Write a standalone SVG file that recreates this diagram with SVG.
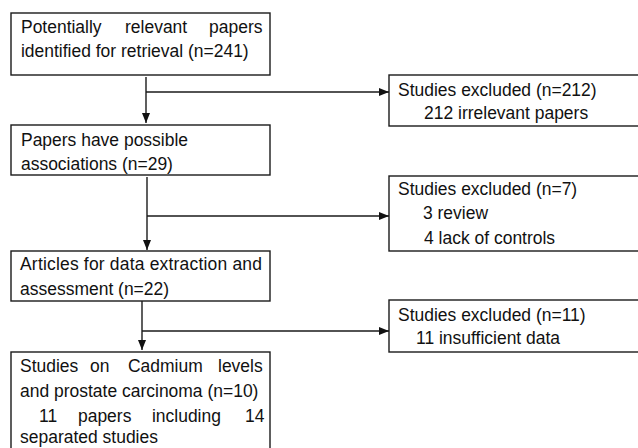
<svg xmlns="http://www.w3.org/2000/svg" width="638" height="448" viewBox="0 0 638 448">
<style>
.box{fill:#fff;stroke:#1a1a1a;stroke-width:1.4}
.t{font-family:"Liberation Sans",Arial,sans-serif;font-size:18.5px;fill:#111}
.c{fill:none;stroke:#1a1a1a;stroke-width:1.4}
</style>
<defs>
<marker id="ah" markerUnits="userSpaceOnUse" markerWidth="10" markerHeight="8" refX="10" refY="4" orient="auto">
<path d="M0,0 L10,4 L0,8 Z" fill="#111"/>
</marker>
</defs>
<rect width="638" height="448" fill="#fff"/>
<g id="connectors">
<path class="c" d="M146,77 V123" marker-end="url(#ah)"/>
<path class="c" d="M146,92 H389" marker-end="url(#ah)"/>
<path class="c" d="M147,177 V250" marker-end="url(#ah)"/>
<path class="c" d="M147,216 H389" marker-end="url(#ah)"/>
<path class="c" d="M142,301 V350" marker-end="url(#ah)"/>
<path class="c" d="M142,331 H389" marker-end="url(#ah)"/>
</g>
<g id="n1">
<rect class="box" x="11" y="13" width="259" height="62"/>
<text class="t" transform="scale(0.945,1)" y="33"><tspan x="22.2">Potentially</tspan><tspan x="132.3">relevant</tspan><tspan x="221.2">papers</tspan></text>
<text class="t" transform="scale(0.945,1)" x="22.2" y="57">identified for retrieval (n=241)</text>
</g>
<g id="n2">
<rect class="box" x="11" y="125" width="259" height="50"/>
<text class="t" transform="scale(0.945,1)" x="22.2" y="146">Papers have possible</text>
<text class="t" transform="scale(0.945,1)" x="22.2" y="170">associations (n=29)</text>
</g>
<g id="n3">
<rect class="box" x="11" y="251" width="259" height="50"/>
<text class="t" transform="scale(0.945,1)" x="21.2" y="270" textLength="256" lengthAdjust="spacing">Articles for data extraction and</text>
<text class="t" transform="scale(0.945,1)" x="21.2" y="295">assessment (n=22)</text>
</g>
<g id="n4">
<rect class="box" x="11" y="352" width="259" height="110"/>
<text class="t" transform="scale(0.945,1)" y="372"><tspan x="21.2">Studies</tspan><tspan x="95.2">on</tspan><tspan x="135.4">Cadmium</tspan><tspan x="230.7">levels</tspan></text>
<text class="t" transform="scale(0.945,1)" x="21.2" y="397">and prostate carcinoma (n=10)</text>
<text class="t" transform="scale(0.945,1)" y="422"><tspan x="41.3">11</tspan><tspan x="82.5">papers</tspan><tspan x="160.8">including</tspan><tspan x="259.3">14</tspan></text>
<text class="t" transform="scale(0.945,1)" x="21.2" y="443">separated studies</text>
</g>
<g id="e1">
<rect class="box" x="389" y="75" width="260" height="51"/>
<text class="t" transform="scale(0.945,1)" x="421.2" y="96">Studies excluded (n=212)</text>
<text class="t" transform="scale(0.945,1)" x="448.7" y="119">212 irrelevant papers</text>
</g>
<g id="e2">
<rect class="box" x="389" y="176" width="260" height="75"/>
<text class="t" transform="scale(0.945,1)" x="421.2" y="195">Studies excluded (n=7)</text>
<text class="t" transform="scale(0.945,1)" x="447.6" y="219">3 review</text>
<text class="t" transform="scale(0.945,1)" x="448.7" y="244">4 lack of controls</text>
</g>
<g id="e3">
<rect class="box" x="389" y="300" width="260" height="52"/>
<text class="t" transform="scale(0.945,1)" x="421.2" y="321">Studies excluded (n=11)</text>
<text class="t" transform="scale(0.945,1)" x="440.2" y="344">11 insufficient data</text>
</g>
</svg>
